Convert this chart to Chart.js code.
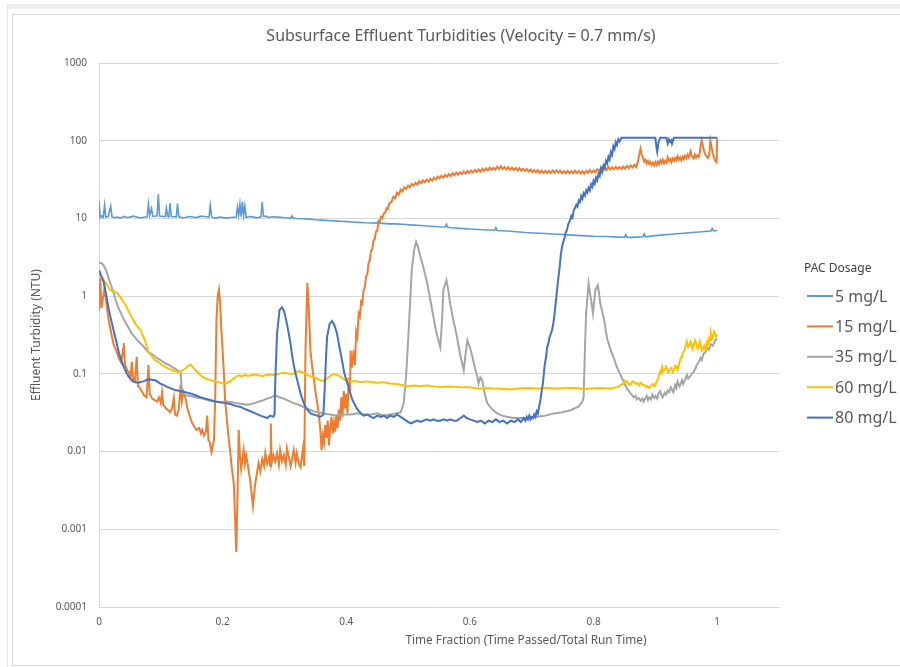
<!DOCTYPE html>
<html>
<head>
<meta charset="utf-8">
<script src="https://cdn.jsdelivr.net/npm/chart.js@4.4.1/dist/chart.umd.min.js"></script>
<style>
  body { margin: 0; background: #fff; }
  #wrap { position: relative; width: 900px; height: 667px; overflow: hidden; }
  .band { position: absolute; left: 7px; top: 4px; right: 0; height: 5px; background: #efefef; }
  .edge { position: absolute; left: 7px; top: 4px; width: 1px; bottom: 0; background: #e6e6e6; }
  .frame { position: absolute; left: 12px; top: 14px; width: 900px; height: 650px; border: 1px solid #d9d9d9; }
  #chart { position: absolute; left: 0; top: 0; }
</style>
</head>
<body>
<div id="wrap">
  <div class="band"></div>
  <div class="edge"></div>
  <div class="frame"></div>
  <canvas id="chart" width="900" height="667"></canvas>
</div>
<script>
const chartTitle = "Subsurface Effluent Turbidities (Velocity = 0.7 mm/s)";
const xTitle = "Time Fraction (Time Passed/Total Run Time)";
const yTitle = "Effluent Turbidity (NTU)";
const legendTitle = "PAC Dosage";

const seriesLabels = ["5 mg/L", "15 mg/L", "35 mg/L", "60 mg/L", "80 mg/L"];
const seriesColors = ["#5B9BD5", "#ED7D31", "#A5A5A5", "#FFC000", "#4472C4"];

const xTicks = [0, 0.2, 0.4, 0.6, 0.8, 1];
const yTicks = [0.0001, 0.001, 0.01, 0.1, 1, 10, 100, 1000];

// [time fraction, turbidity NTU]
const pac5 = [
  [0,16.5],[0.002,10.2],[0.004,10.8],[0.007,10.3],[0.009,14.8],[0.011,10.4],[0.015,10.6],
  [0.019,14.4],[0.021,10.5],[0.025,10.2],[0.03,10.4],[0.035,10.1],[0.04,10.6],[0.045,10.3],
  [0.05,10.4],[0.055,10.7],[0.06,10.5],[0.065,10.2],[0.07,10.3],[0.078,10.5],[0.08,15.3],
  [0.082,11],[0.085,13.5],[0.087,10.6],[0.094,10.8],[0.096,20.5],[0.098,10.7],[0.107,10.5],
  [0.109,13.6],[0.111,10.6],[0.113,10.4],[0.115,15.7],[0.117,10.6],[0.125,10.5],[0.127,15.5],
  [0.129,10.5],[0.135,10.2],[0.14,10.3],[0.145,10.6],[0.15,10.5],[0.155,10.3],[0.16,10.4],
  [0.165,10.7],[0.17,10.6],[0.178,10.4],[0.18,14.8],[0.182,10.8],[0.184,10.2],[0.19,10.1],
  [0.195,10.4],[0.2,10.3],[0.205,10.1],[0.21,10.2],[0.222,10.4],[0.224,14],[0.226,11],
  [0.228,15.3],[0.23,10.5],[0.232,16.4],[0.234,11],[0.236,14.5],[0.238,10.3],[0.244,10.6],
  [0.25,10.4],[0.256,10.2],[0.262,10.5],[0.264,16.4],[0.266,10.6],[0.27,10.7],[0.275,10.3],
  [0.28,10.5],[0.29,10.4],[0.3,10.2],[0.31,10.1],[0.312,10.8],[0.314,10.1],[0.32,10.0],
  [0.33,9.9],[0.34,9.8],[0.35,9.6],[0.36,9.5],[0.37,9.4],[0.38,9.3],[0.39,9.2],[0.4,9.1],
  [0.41,9.0],[0.42,8.9],[0.43,8.8],[0.45,8.7],[0.452,9.3],[0.454,8.7],[0.47,8.5],[0.48,8.5],
  [0.49,8.4],[0.51,8.2],[0.52,8.1],[0.53,8.0],[0.55,7.8],[0.56,7.75],[0.562,8.4],[0.564,7.7],
  [0.57,7.6],[0.585,7.45],[0.6,7.3],[0.615,7.2],[0.63,7.1],[0.64,7.05],[0.642,7.6],[0.644,7.0],
  [0.66,6.9],[0.675,6.75],[0.69,6.6],[0.705,6.5],[0.72,6.4],[0.735,6.3],[0.75,6.2],[0.765,6.1],
  [0.78,6.0],[0.8,5.9],[0.82,5.85],[0.84,5.75],[0.85,5.72],[0.852,6.2],[0.854,5.72],[0.86,5.7],
  [0.87,5.75],[0.88,5.8],[0.882,6.3],[0.884,5.8],[0.9,6.0],[0.92,6.2],[0.93,6.3],[0.94,6.4],
  [0.95,6.5],[0.96,6.6],[0.97,6.7],[0.98,6.8],[0.99,6.9],[0.992,7.4],[0.994,6.9],[1.0,7.0]
];

const pac15 = [
  [0,0.65],[0.002,1.7],[0.004,0.7],[0.006,0.9],[0.009,1.27],[0.012,0.8],[0.016,0.47],
  [0.02,0.33],[0.024,0.23],[0.028,0.2],[0.032,0.16],[0.036,0.14],[0.039,0.21],[0.04,0.25],
  [0.042,0.13],[0.046,0.11],[0.048,0.106],[0.051,0.09],[0.053,0.143],[0.055,0.085],[0.058,0.08],
  [0.061,0.166],[0.063,0.07],[0.065,0.068],[0.069,0.06],[0.073,0.053],[0.077,0.05],[0.08,0.13],
  [0.082,0.055],[0.086,0.048],[0.09,0.046],[0.094,0.044],[0.097,0.05],[0.1,0.042],[0.102,0.058],
  [0.104,0.04],[0.108,0.036],[0.112,0.034],[0.115,0.032],[0.118,0.036],[0.121,0.049],[0.123,0.03],
  [0.126,0.029],[0.129,0.035],[0.132,0.072],[0.134,0.045],[0.136,0.06],[0.14,0.048],[0.143,0.036],
  [0.146,0.03],[0.15,0.024],[0.154,0.021],[0.158,0.019],[0.162,0.02],[0.165,0.017],[0.167,0.019],
  [0.17,0.016],[0.173,0.018],[0.175,0.029],[0.177,0.014],[0.179,0.0133],[0.182,0.0099],
  [0.184,0.012],[0.186,0.014],[0.188,0.05],[0.19,0.5],[0.192,1.0],[0.194,1.22],[0.196,0.8],
  [0.198,0.35],[0.2,0.2],[0.202,0.1],[0.204,0.046],[0.207,0.025],[0.21,0.014],[0.212,0.0104],
  [0.215,0.006],[0.218,0.0039],[0.22,0.0015],[0.222,0.00051],[0.224,0.0025],[0.226,0.019],
  [0.228,0.009],[0.23,0.006],[0.232,0.008],[0.234,0.0104],[0.236,0.007],[0.238,0.009],
  [0.241,0.0065],[0.245,0.004],[0.247,0.0028],[0.249,0.002],[0.252,0.0035],[0.255,0.005],
  [0.258,0.0071],[0.261,0.0055],[0.264,0.008],[0.267,0.0065],[0.269,0.0095],[0.272,0.007],
  [0.275,0.0085],[0.277,0.0065],[0.278,0.023],[0.279,0.007],[0.282,0.009],[0.285,0.0075],
  [0.288,0.0095],[0.291,0.0068],[0.293,0.0104],[0.296,0.0075],[0.299,0.009],[0.302,0.0068],
  [0.304,0.011],[0.307,0.0085],[0.31,0.0065],[0.312,0.0078],[0.315,0.0105],[0.318,0.0072],
  [0.32,0.0095],[0.323,0.007],[0.326,0.0063],[0.328,0.0085],[0.33,0.011],[0.332,0.0065],
  [0.334,0.2],[0.337,1.48],[0.339,0.8],[0.342,0.2],[0.345,0.12],[0.347,0.092],[0.35,0.06],
  [0.353,0.042],[0.356,0.028],[0.358,0.019],[0.36,0.0104],[0.362,0.016],[0.364,0.013],
  [0.366,0.022],[0.368,0.015],[0.37,0.025],[0.372,0.012],[0.374,0.02],[0.376,0.028],
  [0.378,0.017],[0.38,0.024],[0.382,0.018],[0.384,0.03],[0.386,0.02],[0.388,0.035],
  [0.39,0.025],[0.392,0.05],[0.394,0.028],[0.396,0.06],[0.398,0.036],[0.4,0.055],[0.402,0.031],
  [0.404,0.09],[0.406,0.06],[0.407,0.2],[0.409,0.12],[0.412,0.2],[0.414,0.13],[0.416,0.35],
  [0.418,0.3],[0.42,0.6],[0.422,0.55],[0.424,0.85],[0.426,0.8],[0.428,1.2],[0.43,1.3],
  [0.432,1.8],[0.434,1.9],[0.436,2.65],[0.438,2.9],[0.44,3.8],[0.442,4.0],[0.444,5.2],
  [0.446,5.4],[0.448,6.8],[0.45,6.9],[0.452,8.7],[0.454,8.9],[0.456,10.5],[0.458,10.1],
  [0.461,11.7],[0.463,11.9],[0.465,13.5],[0.467,13.2],[0.47,15.8],[0.473,16.2],[0.476,18.9],
  [0.479,18.1],[0.482,21.5],[0.485,20.2],[0.488,23.6],[0.491,22.4],[0.494,25.1],[0.497,24],
  [0.5,26.5],[0.503,25.2],[0.506,27.9],[0.509,26.4],[0.512,28.8],[0.515,27.3],[0.518,30.1],
  [0.521,28.4],[0.524,30.9],[0.527,29.2],[0.53,31.6],[0.533,29.8],[0.536,32.4],[0.539,30.6],
  [0.542,33.5],[0.545,31.7],[0.548,34.6],[0.551,32.8],[0.554,35.4],[0.557,33.5],[0.56,36.3],
  [0.563,34.4],[0.566,37.2],[0.569,35.1],[0.572,38.1],[0.575,36],[0.578,38.9],[0.581,36.6],
  [0.584,39.4],[0.587,37.3],[0.59,40.2],[0.593,37.8],[0.596,40.6],[0.599,38.4],[0.602,41.3],
  [0.605,39],[0.608,42],[0.611,39.6],[0.614,42.6],[0.617,40.1],[0.62,43.4],[0.623,40.8],
  [0.626,44.2],[0.629,41.5],[0.632,45.1],[0.635,42.3],[0.638,44.8],[0.641,42.5],[0.644,46.3],
  [0.647,43.1],[0.65,47],[0.653,43.4],[0.656,45.9],[0.659,42.8],[0.662,45.5],[0.665,42.4],
  [0.668,45.2],[0.671,42.1],[0.674,44.6],[0.677,41.6],[0.68,44.3],[0.683,41.2],[0.686,43.6],
  [0.689,40.7],[0.692,43.1],[0.695,40.3],[0.698,42.6],[0.701,39.4],[0.704,41.9],[0.707,39.1],
  [0.71,41.7],[0.713,38.6],[0.716,41.2],[0.719,38.4],[0.722,41],[0.725,38.2],[0.728,40.9],
  [0.731,38.5],[0.734,41.3],[0.737,38.7],[0.74,41.6],[0.743,38.9],[0.746,41.2],[0.749,38.3],
  [0.752,40.8],[0.755,38.1],[0.758,40.9],[0.761,37.9],[0.764,40.6],[0.767,38.2],[0.77,41.1],
  [0.773,38.4],[0.776,40.7],[0.779,38],[0.782,40.4],[0.785,37.8],[0.788,41],[0.791,38.6],
  [0.794,42],[0.797,38.9],[0.8,41.5],[0.803,39.2],[0.806,42.8],[0.809,40.4],[0.812,44.6],
  [0.815,41.3],[0.818,45.2],[0.821,42.1],[0.824,46.4],[0.827,42.6],[0.83,45.6],[0.833,42.9],
  [0.836,46.1],[0.839,43.2],[0.842,45.8],[0.845,43],[0.848,46.5],[0.851,43.7],[0.854,47.3],
  [0.857,44.5],[0.86,48],[0.863,45.2],[0.866,49],[0.869,46],[0.872,55],[0.874,66],[0.876,79],
  [0.878,66],[0.88,60],[0.882,54],[0.884,57],[0.886,51],[0.888,55],[0.89,50],[0.892,53],
  [0.894,49],[0.896,52],[0.898,48],[0.9,53],[0.902,49],[0.904,54],[0.906,50],[0.908,56],
  [0.91,52],[0.912,57],[0.914,51],[0.916,55],[0.918,52],[0.92,61],[0.922,55],[0.924,58],
  [0.926,53],[0.928,59],[0.93,55],[0.932,60],[0.934,56],[0.936,63],[0.938,57],[0.94,61],
  [0.942,56],[0.944,62],[0.946,58],[0.948,64],[0.95,60],[0.952,66],[0.954,61],[0.957,73],
  [0.959,63],[0.962,59],[0.964,66],[0.966,61],[0.968,65],[0.97,62],[0.972,70],[0.973,85],
  [0.975,101],[0.977,84],[0.979,72],[0.981,66],[0.983,63],[0.985,60],[0.987,64],[0.989,100],
  [0.991,82],[0.993,68],[0.995,60],[0.997,55],[0.999,53],[1.0,108]
];

const pac35 = [
  [0,2.7],[0.004,2.65],[0.0075,2.5],[0.012,2.1],[0.0156,1.7],[0.02,1.35],[0.026,0.94],
  [0.031,0.72],[0.037,0.57],[0.042,0.47],[0.048,0.39],[0.053,0.33],[0.059,0.29],[0.064,0.26],
  [0.07,0.235],[0.075,0.21],[0.08,0.19],[0.086,0.178],[0.091,0.166],[0.097,0.155],[0.102,0.146],
  [0.107,0.137],[0.113,0.13],[0.118,0.123],[0.123,0.117],[0.128,0.11],[0.132,0.106],[0.134,0.06],
  [0.137,0.056],[0.14,0.053],[0.148,0.052],[0.156,0.05],[0.164,0.049],[0.172,0.047],[0.18,0.045],
  [0.188,0.044],[0.196,0.043],[0.207,0.044],[0.215,0.043],[0.223,0.042],[0.231,0.041],
  [0.239,0.04],[0.247,0.041],[0.255,0.043],[0.263,0.045],[0.272,0.048],[0.279,0.05],
  [0.285,0.053],[0.292,0.05],[0.299,0.048],[0.307,0.045],[0.315,0.042],[0.323,0.04],
  [0.331,0.0375],[0.339,0.035],[0.347,0.033],[0.355,0.032],[0.363,0.031],[0.374,0.03],
  [0.385,0.029],[0.396,0.03],[0.407,0.03],[0.418,0.031],[0.428,0.03],[0.44,0.03],[0.45,0.031],
  [0.461,0.029],[0.47,0.03],[0.48,0.031],[0.488,0.032],[0.493,0.042],[0.497,0.1],[0.501,0.37],
  [0.506,2.2],[0.51,4.0],[0.513,5.0],[0.516,4.3],[0.52,3.2],[0.525,2.3],[0.531,1.46],[0.536,0.9],
  [0.541,0.54],[0.546,0.33],[0.552,0.22],[0.555,0.5],[0.557,1.2],[0.562,1.6],[0.565,1.2],
  [0.568,0.8],[0.573,0.5],[0.579,0.3],[0.584,0.18],[0.59,0.112],[0.593,0.18],[0.596,0.27],
  [0.6,0.22],[0.604,0.166],[0.609,0.112],[0.612,0.092],[0.614,0.075],[0.617,0.09],[0.62,0.083],
  [0.624,0.055],[0.628,0.042],[0.636,0.035],[0.644,0.031],[0.652,0.029],[0.66,0.028],
  [0.67,0.027],[0.682,0.027],[0.695,0.027],[0.709,0.028],[0.722,0.029],[0.736,0.031],
  [0.75,0.032],[0.763,0.034],[0.776,0.038],[0.782,0.044],[0.784,0.05],[0.786,0.2],[0.788,0.6],
  [0.792,1.46],[0.796,0.9],[0.799,0.6],[0.803,1.2],[0.807,1.38],[0.811,0.8],[0.817,0.5],
  [0.822,0.285],[0.828,0.2],[0.833,0.158],[0.838,0.12],[0.844,0.096],[0.849,0.078],[0.854,0.065],
  [0.86,0.056],[0.865,0.05],[0.868,0.052],[0.87,0.047],[0.873,0.049],[0.876,0.045],[0.879,0.048],
  [0.881,0.044],[0.884,0.049],[0.886,0.052],[0.888,0.046],[0.89,0.05],[0.893,0.047],[0.895,0.054],
  [0.898,0.049],[0.9,0.052],[0.903,0.048],[0.905,0.056],[0.908,0.06],[0.91,0.053],[0.912,0.05],
  [0.915,0.057],[0.917,0.054],[0.92,0.061],[0.922,0.058],[0.925,0.067],[0.927,0.062],[0.929,0.058],
  [0.932,0.072],[0.934,0.066],[0.936,0.08],[0.939,0.069],[0.941,0.075],[0.943,0.083],[0.945,0.074],
  [0.947,0.08],[0.949,0.088],[0.951,0.097],[0.953,0.087],[0.956,0.092],[0.959,0.1],[0.962,0.106],
  [0.965,0.118],[0.967,0.13],[0.97,0.142],[0.973,0.16],[0.975,0.15],[0.978,0.182],[0.981,0.19],
  [0.984,0.214],[0.987,0.205],[0.99,0.24],[0.993,0.23],[0.997,0.27],[1.0,0.28]
];

const pac60 = [
  [0,1.86],[0.004,1.75],[0.01,1.53],[0.014,1.35],[0.018,1.2],[0.022,1.17],[0.026,1.14],[0.03,1.08],
  [0.034,0.98],[0.039,0.86],[0.043,0.77],[0.047,0.66],[0.051,0.57],[0.055,0.5],[0.059,0.44],
  [0.063,0.4],[0.067,0.37],[0.071,0.31],[0.075,0.26],[0.08,0.19],[0.085,0.17],[0.091,0.15],
  [0.097,0.14],[0.102,0.13],[0.108,0.122],[0.113,0.117],[0.118,0.112],[0.123,0.108],[0.128,0.106],
  [0.132,0.106],[0.136,0.112],[0.14,0.118],[0.144,0.127],[0.148,0.132],[0.152,0.122],[0.156,0.112],
  [0.161,0.102],[0.167,0.092],[0.173,0.087],[0.18,0.083],[0.187,0.08],[0.194,0.078],[0.2,0.076],
  [0.206,0.075],[0.212,0.08],[0.218,0.087],[0.222,0.092],[0.226,0.096],[0.231,0.093],[0.236,0.097],
  [0.241,0.094],[0.247,0.096],[0.253,0.098],[0.259,0.095],[0.266,0.094],[0.272,0.097],[0.278,0.098],
  [0.283,0.096],[0.29,0.1],[0.299,0.103],[0.307,0.101],[0.315,0.1],[0.323,0.109],[0.33,0.104],
  [0.337,0.097],[0.345,0.091],[0.353,0.087],[0.358,0.083],[0.363,0.081],[0.368,0.086],[0.374,0.094],
  [0.38,0.099],[0.385,0.097],[0.39,0.093],[0.398,0.084],[0.407,0.079],[0.415,0.081],[0.423,0.078],
  [0.431,0.08],[0.439,0.079],[0.45,0.077],[0.461,0.078],[0.47,0.075],[0.482,0.074],[0.49,0.072],
  [0.498,0.069],[0.51,0.071],[0.52,0.07],[0.532,0.071],[0.542,0.069],[0.552,0.068],[0.565,0.069],
  [0.579,0.068],[0.59,0.067],[0.6,0.067],[0.612,0.065],[0.625,0.066],[0.64,0.065],[0.655,0.064],
  [0.666,0.063],[0.68,0.065],[0.695,0.066],[0.71,0.065],[0.725,0.066],[0.74,0.065],[0.755,0.066],
  [0.77,0.066],[0.785,0.064],[0.795,0.065],[0.81,0.066],[0.828,0.065],[0.84,0.068],[0.844,0.072],
  [0.848,0.074],[0.851,0.082],[0.854,0.079],[0.857,0.074],[0.86,0.073],[0.863,0.08],[0.866,0.078],
  [0.869,0.074],[0.871,0.076],[0.874,0.071],[0.876,0.077],[0.879,0.073],[0.882,0.072],[0.885,0.068],
  [0.887,0.07],[0.89,0.066],[0.892,0.068],[0.894,0.072],[0.896,0.074],[0.898,0.069],[0.9,0.072],
  [0.902,0.08],[0.904,0.085],[0.906,0.098],[0.908,0.11],[0.91,0.102],[0.911,0.123],[0.913,0.108],
  [0.915,0.112],[0.917,0.124],[0.919,0.118],[0.921,0.104],[0.922,0.11],[0.924,0.116],[0.926,0.12],
  [0.928,0.106],[0.93,0.112],[0.932,0.128],[0.934,0.125],[0.936,0.112],[0.937,0.118],[0.939,0.14],
  [0.94,0.15],[0.942,0.165],[0.943,0.174],[0.945,0.19],[0.947,0.2],[0.949,0.23],[0.951,0.26],
  [0.953,0.22],[0.955,0.23],[0.957,0.26],[0.958,0.25],[0.96,0.21],[0.962,0.23],[0.964,0.27],
  [0.966,0.25],[0.968,0.21],[0.97,0.22],[0.972,0.26],[0.973,0.24],[0.975,0.2],[0.977,0.21],
  [0.979,0.23],[0.981,0.2],[0.983,0.24],[0.984,0.26],[0.986,0.24],[0.987,0.29],[0.989,0.27],
  [0.99,0.33],[0.992,0.28],[0.993,0.3],[0.995,0.35],[0.996,0.34],[0.998,0.3],[1.0,0.32]
];

const pac80 = [
  [0,2.16],[0.004,1.8],[0.0075,1.53],[0.012,1.0],[0.0156,0.69],[0.02,0.48],[0.024,0.35],
  [0.028,0.26],[0.032,0.19],[0.036,0.15],[0.04,0.123],[0.044,0.105],[0.048,0.092],[0.052,0.084],
  [0.056,0.079],[0.06,0.078],[0.064,0.077],[0.068,0.079],[0.072,0.08],[0.076,0.083],[0.08,0.085],
  [0.085,0.084],[0.091,0.083],[0.095,0.079],[0.099,0.075],[0.104,0.072],[0.11,0.068],[0.116,0.065],
  [0.123,0.062],[0.131,0.06],[0.14,0.058],[0.148,0.056],[0.156,0.053],[0.164,0.05],[0.172,0.048],
  [0.18,0.046],[0.188,0.044],[0.196,0.043],[0.204,0.042],[0.212,0.041],[0.22,0.039],[0.229,0.0375],
  [0.237,0.035],[0.245,0.033],[0.253,0.031],[0.261,0.029],[0.267,0.028],[0.272,0.027],[0.277,0.029],
  [0.282,0.028],[0.284,0.03],[0.285,0.075],[0.288,0.33],[0.292,0.66],[0.296,0.72],[0.299,0.65],
  [0.301,0.57],[0.304,0.44],[0.307,0.33],[0.31,0.24],[0.312,0.18],[0.315,0.13],[0.318,0.101],
  [0.322,0.075],[0.326,0.056],[0.33,0.045],[0.334,0.0375],[0.338,0.034],[0.342,0.031],[0.347,0.03],
  [0.353,0.029],[0.357,0.028],[0.361,0.029],[0.363,0.03],[0.365,0.062],[0.367,0.15],[0.369,0.3],
  [0.373,0.44],[0.377,0.48],[0.381,0.42],[0.385,0.33],[0.389,0.22],[0.393,0.15],[0.397,0.1],
  [0.402,0.075],[0.406,0.058],[0.41,0.046],[0.414,0.04],[0.417,0.036],[0.422,0.032],[0.428,0.029],
  [0.434,0.03],[0.44,0.028],[0.444,0.027],[0.45,0.029],[0.456,0.028],[0.461,0.029],[0.466,0.027],
  [0.471,0.029],[0.477,0.028],[0.482,0.03],[0.488,0.028],[0.494,0.026],[0.5,0.024],[0.505,0.023],
  [0.509,0.024],[0.515,0.025],[0.52,0.024],[0.525,0.025],[0.53,0.026],[0.536,0.025],[0.541,0.026],
  [0.546,0.025],[0.552,0.025],[0.558,0.026],[0.563,0.025],[0.568,0.026],[0.574,0.025],[0.579,0.025],
  [0.585,0.027],[0.59,0.029],[0.595,0.027],[0.6,0.026],[0.606,0.025],[0.612,0.024],[0.618,0.025],
  [0.624,0.023],[0.63,0.025],[0.636,0.024],[0.642,0.026],[0.648,0.024],[0.654,0.025],[0.66,0.023],
  [0.666,0.025],[0.672,0.024],[0.678,0.026],[0.682,0.024],[0.684,0.025],[0.687,0.027],[0.69,0.025],
  [0.692,0.028],[0.694,0.026],[0.696,0.029],[0.698,0.026],[0.7,0.028],[0.702,0.027],[0.704,0.03],
  [0.706,0.028],[0.708,0.033],[0.71,0.031],[0.712,0.038],[0.714,0.045],[0.716,0.06],[0.718,0.075],
  [0.721,0.13],[0.723,0.16],[0.725,0.22],[0.727,0.25],[0.729,0.3],[0.731,0.33],[0.733,0.37],
  [0.735,0.45],[0.737,0.6],[0.739,0.85],[0.741,1.2],[0.743,1.7],[0.745,2.3],[0.747,3.4],
  [0.749,4.3],[0.751,5.0],[0.753,5.6],[0.755,6.6],[0.757,7.1],[0.759,8.4],[0.762,9.5],
  [0.764,10.8],[0.766,10.2],[0.768,12.8],[0.77,13.6],[0.772,15],[0.774,14.2],[0.776,17],
  [0.778,16.2],[0.78,19.5],[0.782,18],[0.784,21],[0.786,19.6],[0.788,23],[0.79,21.5],
  [0.792,24.8],[0.794,23],[0.796,27.5],[0.798,25.6],[0.8,30.5],[0.802,28],[0.804,33.5],
  [0.806,31],[0.808,37.5],[0.81,35],[0.812,44],[0.814,40],[0.816,48],[0.818,44.5],[0.82,55],
  [0.822,51],[0.824,62],[0.826,57],[0.828,72],[0.83,66],[0.832,85],[0.834,78],[0.836,96],
  [0.838,88],[0.84,104],[0.842,98],[0.845,109],[0.9,109],[0.902,80],[0.903,72],[0.905,95],
  [0.908,109],[0.918,109],[0.92,92],[0.922,104],[0.924,96],[0.926,101],[0.927,92],[0.93,109],
  [1.0,109]
];

const seriesData = [pac5, pac15, pac35, pac60, pac80];

const fontFace = "'Noto Sans', 'Open Sans', sans-serif";

// titles and the right-hand legend are painted straight onto the canvas
const textLayer = {
  id: 'textLayer',
  afterDraw(chart) {
    const ctx = chart.ctx;
    ctx.save();
    ctx.textBaseline = 'middle';
    ctx.textAlign = 'center';
    ctx.fillStyle = '#595959';
    ctx.font = '16px ' + fontFace;
    ctx.fillText(chartTitle, 461, 36);
    ctx.font = '11.8px ' + fontFace;
    ctx.fillText(xTitle, 526, 641);

    ctx.textAlign = 'left';
    ctx.fillStyle = '#404040';
    ctx.font = '12px ' + fontFace;
    ctx.fillText(legendTitle, 804, 269);
    ctx.font = '16px ' + fontFace;
    chart.data.datasets.forEach((ds, i) => {
      const y = 296 + i * 30.4;
      ctx.strokeStyle = ds.borderColor;
      ctx.lineWidth = 2;
      ctx.beginPath();
      ctx.moveTo(807, y);
      ctx.lineTo(833, y);
      ctx.stroke();
      ctx.fillStyle = '#595959';
      ctx.fillText(ds.label, 835, y + 1);
    });
    ctx.restore();
  }
};

new Chart(document.getElementById('chart'), {
  type: 'line',
  data: {
    datasets: seriesLabels.map((label, i) => ({
      label,
      data: seriesData[i].map(p => ({ x: p[0], y: p[1] })),
      borderColor: seriesColors[i],
      backgroundColor: seriesColors[i],
      borderWidth: i === 0 ? 1.6 : 2,
      pointRadius: 0,
      tension: 0,
      fill: false,
      order: seriesLabels.length - i   // later series drawn on top
    }))
  },
  options: {
    responsive: false,
    animation: false,
    devicePixelRatio: 1,
    layout: { padding: { left: 0, right: 121, top: 63, bottom: 0 } },
    plugins: {
      legend: { display: false },
      title: { display: false },
      tooltip: { enabled: false }
    },
    scales: {
      x: {
        type: 'linear',
        min: 0,
        max: 1.1,
        afterFit: s => { s.height = 60; },
        afterBuildTicks: s => { s.ticks = xTicks.map(v => ({ value: v })); },
        grid: { display: false, drawTicks: false },
        border: { display: true, color: '#d9d9d9', width: 1 },
        ticks: {
          padding: 9,
          color: '#595959',
          font: { family: fontFace, size: 10 },
          callback: v => String(v)
        }
      },
      y: {
        type: 'logarithmic',
        min: 0.0001,
        max: 1000,
        afterFit: s => { s.width = 99; },
        afterBuildTicks: s => { s.ticks = yTicks.map(v => ({ value: v })); },
        grid: { color: '#d9d9d9', lineWidth: 1, drawTicks: false },
        border: { display: true, color: '#d9d9d9', width: 1 },
        ticks: {
          padding: 12,
          color: '#595959',
          font: { family: fontFace, size: 10 },
          callback: v => String(v)
        },
        title: {
          display: true,
          text: yTitle,
          color: '#595959',
          font: { family: fontFace, size: 12 },
          padding: { top: 29, bottom: 0 }
        }
      }
    }
  },
  plugins: [textLayer]
});
</script>
</body>
</html>
